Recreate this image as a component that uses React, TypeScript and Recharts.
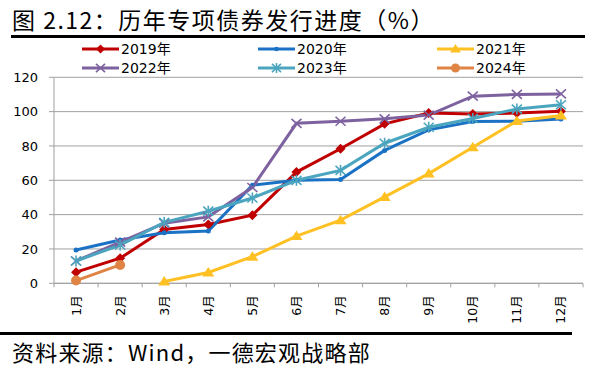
import React from 'react';
import { LineChart, Line, XAxis, YAxis, CartesianGrid } from 'recharts';

const months = ['1月', '2月', '3月', '4月', '5月', '6月', '7月', '8月', '9月', '10月', '11月', '12月'];
const yTicks = [0, 20, 40, 60, 80, 100, 120];

const s2019 = [6.5, 14.6, 31.4, 34.3, 39.7, 64.8, 78.4, 92.9, 99.2, 98.6, 99.2, 100.2];
const s2020 = [19.4, 25.2, 29.5, 30.4, 57.1, 60.0, 60.4, 77.4, 89.4, 94.3, 94.4, 95.7];
const s2021 = [null, null, 1.0, 6.3, 15.5, 27.5, 36.8, 50.3, 63.9, 79.3, 94.6, 97.7];
const s2022 = [13.0, 24.0, 35.0, 38.7, 55.8, 93.2, 94.4, 95.8, 98.0, 109.0, 110.0, 110.3];
const s2023 = [13.0, 22.3, 35.5, 42.0, 49.7, 60.0, 65.8, 81.6, 90.9, 96.0, 101.5, 104.0];
const s2024 = [1.6, 10.7, null, null, null, null, null, null, null, null, null, null];

type Shape = 'diamond' | 'dash' | 'triangle' | 'x' | 'asterisk' | 'circle';

const seriesDefs: { key: string; name: string; values: (number | null)[]; color: string; shape: Shape }[] = [
  { key: 'y2019', name: '2019年', values: s2019, color: '#C00000', shape: 'diamond' },
  { key: 'y2020', name: '2020年', values: s2020, color: '#1B72C4', shape: 'dash' },
  { key: 'y2021', name: '2021年', values: s2021, color: '#FFC024', shape: 'triangle' },
  { key: 'y2022', name: '2022年', values: s2022, color: '#7E62A0', shape: 'x' },
  { key: 'y2023', name: '2023年', values: s2023, color: '#4BA5BE', shape: 'asterisk' },
  { key: 'y2024', name: '2024年', values: s2024, color: '#DF8445', shape: 'circle' },
];

const data = months.map((m, i) => {
  const row: Record<string, number | string | null> = { idx: i + 1, month: m };
  seriesDefs.forEach((s) => {
    row[s.key] = s.values[i];
  });
  return row;
});

const xTicks: number[] = [];
for (let i = 0; i <= months.length * 2; i++) xTicks.push(0.5 + i * 0.5);

const Marker = ({ shape, color, cx, cy, k = 1 }: { shape: Shape; color: string; cx: number; cy: number; k?: number }) => {
  switch (shape) {
    case 'diamond':
      return (
        <polygon
          points={`${cx},${cy - 5 * k} ${cx + 5 * k},${cy} ${cx},${cy + 5 * k} ${cx - 5 * k},${cy}`}
          fill={color}
        />
      );
    case 'dash':
      return <circle cx={cx} cy={cy} r={2.5 * k} fill={color} />;
    case 'triangle':
      return (
        <polygon
          points={`${cx},${cy - 5.5 * k} ${cx + 6 * k},${cy + 4 * k} ${cx - 6 * k},${cy + 4 * k}`}
          fill={color}
        />
      );
    case 'x':
      return (
        <g stroke={color} strokeWidth={1.6}>
          <line x1={cx - 5 * k} y1={cy - 4.5 * k} x2={cx + 5 * k} y2={cy + 4.5 * k} />
          <line x1={cx - 5 * k} y1={cy + 4.5 * k} x2={cx + 5 * k} y2={cy - 4.5 * k} />
        </g>
      );
    case 'asterisk':
      return (
        <g stroke={color} strokeWidth={1.6}>
          <line x1={cx - 5 * k} y1={cy - 4.5 * k} x2={cx + 5 * k} y2={cy + 4.5 * k} />
          <line x1={cx - 5 * k} y1={cy + 4.5 * k} x2={cx + 5 * k} y2={cy - 4.5 * k} />
          <line x1={cx} y1={cy - 5.5 * k} x2={cx} y2={cy + 5.5 * k} />
        </g>
      );
    case 'circle':
    default:
      return <circle cx={cx} cy={cy} r={5 * k} fill={color} />;
  }
};

const makeDot = (shape: Shape, color: string) => (props: any) => {
  const { cx, cy, index, value } = props;
  if (cx == null || cy == null || value == null || Number.isNaN(cy)) return <g key={`d-${index}`} />;
  return (
    <g key={`d-${index}`}>
      <Marker shape={shape} color={color} cx={cx} cy={cy} />
    </g>
  );
};

const MonthTick = (props: any) => {
  const { x, y, payload } = props;
  const v = payload.value as number;
  if (Math.abs(v - Math.round(v)) > 0.01) {
    return <line x1={x} y1={y} x2={x} y2={y + 4} stroke="#a0a0a0" strokeWidth={1} />;
  }
  const ty = y + 12;
  return (
    <text
      x={x}
      y={ty}
      transform={`rotate(-90 ${x} ${ty})`}
      textAnchor="end"
      dominantBaseline="central"
      fontSize={12.5}
      fontFamily="'DejaVu Sans', 'Noto Sans CJK SC', sans-serif"
      fill="#000"
    >
      {months[v - 1]}
    </text>
  );
};

const legendCols = [82, 258, 437];
const legendRows = [49, 68];

export default function App() {
  return (
    <div
      style={{
        position: 'absolute',
        left: 0,
        top: 0,
        width: 592,
        height: 366,
        background: '#fff',
        overflow: 'hidden',
      }}
    >
      <div
        style={{
          position: 'absolute',
          left: 12,
          top: 7,
          fontSize: 23,
          lineHeight: '24px',
          letterSpacing: 1.5,
          fontFamily: "'Noto Sans CJK SC', sans-serif",
          color: '#000',
          whiteSpace: 'nowrap',
        }}
      >
        图 2.12：历年专项债券发行进度（%）
      </div>
      <div style={{ position: 'absolute', left: 11, top: 35, width: 574, height: 2.5, background: '#000' }} />

      <div style={{ position: 'absolute', left: 0, top: 0 }}>
        <LineChart width={592} height={366} data={data} margin={{ top: 77.3, right: 9, bottom: 0, left: 0 }}>
          <CartesianGrid vertical={false} stroke="#a0a0a0" strokeWidth={1} />
          <XAxis
            dataKey="idx"
            type="number"
            domain={[0.5, 12.5]}
            ticks={xTicks}
            interval={0}
            height={82.7}
            tickLine={false}
            tickSize={0}
            tickMargin={0}
            axisLine={{ stroke: '#a0a0a0', strokeWidth: 1 }}
            tick={<MonthTick />}
            allowDataOverflow
          />
          <YAxis
            domain={[0, 120]}
            ticks={yTicks}
            interval={0}
            width={54}
            tickSize={5}
            tickMargin={11}
            axisLine={{ stroke: '#a0a0a0', strokeWidth: 1 }}
            tickLine={{ stroke: '#a0a0a0', strokeWidth: 1 }}
            tick={{ fontSize: 13, fill: '#000', fontFamily: "'DejaVu Sans', sans-serif" }}
          />
          {seriesDefs.map((s) => (
            <Line
              key={s.key}
              dataKey={s.key}
              name={s.name}
              type="linear"
              stroke={s.color}
              strokeWidth={3}
              dot={makeDot(s.shape, s.color)}
              activeDot={false}
              isAnimationActive={false}
              connectNulls={false}
            />
          ))}
        </LineChart>
      </div>

      {seriesDefs.map((s, i) => {
        const col = i % 3;
        const row = Math.floor(i / 3);
        const x = legendCols[col];
        const y = legendRows[row];
        return (
          <div
            key={s.key}
            style={{
              position: 'absolute',
              left: x,
              top: y - 9,
              height: 18,
              display: 'flex',
              alignItems: 'center',
              whiteSpace: 'nowrap',
            }}
          >
            <svg width={37} height={18} style={{ display: 'block' }}>
              <line x1={0} y1={9} x2={37} y2={9} stroke={s.color} strokeWidth={3} />
              <Marker shape={s.shape} color={s.color} cx={18.5} cy={9} k={0.9} />
            </svg>
            <span
              style={{
                marginLeft: 2,
                fontSize: 14,
                lineHeight: '18px',
                fontFamily: "'DejaVu Sans', 'Noto Sans CJK SC', sans-serif",
                color: '#000',
              }}
            >
              {s.name}
            </span>
          </div>
        );
      })}

      <div style={{ position: 'absolute', left: 0, top: 332, width: 572, height: 2.5, background: '#000' }} />
      <div
        style={{
          position: 'absolute',
          left: 12,
          top: 339,
          fontSize: 22,
          lineHeight: '24px',
          letterSpacing: 1.2,
          fontFamily: "'Noto Sans CJK SC', sans-serif",
          color: '#000',
          whiteSpace: 'nowrap',
        }}
      >
        资料来源：Wind，一德宏观战略部
      </div>
    </div>
  );
}
